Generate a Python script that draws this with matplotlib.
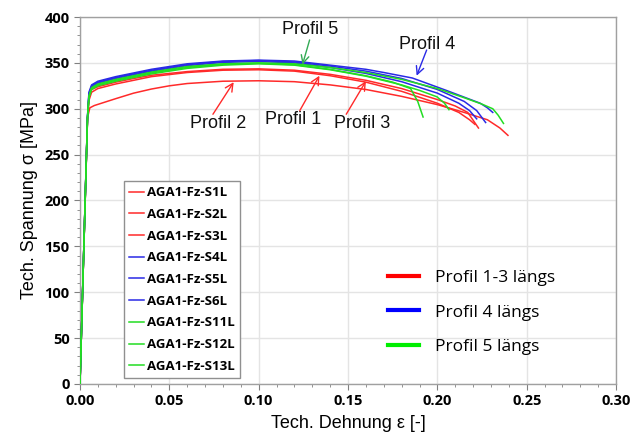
import matplotlib
matplotlib.use("Agg")
import matplotlib.pyplot as plt
from matplotlib.lines import Line2D
from matplotlib.ticker import MultipleLocator, FormatStrFormatter

# ---------------- data ----------------
s1_strain = [0, 0.0042, 0.005, 0.0065, 0.01, 0.02, 0.03, 0.04, 0.06, 0.08, 0.10, 0.12, 0.14, 0.16, 0.18, 0.20, 0.21, 0.217, 0.223]
s1_stress = [0, 290, 312, 321, 324, 329, 333, 336.5, 340.5, 343, 343.5, 342, 337.5, 331, 322, 310, 303, 296, 279]

s2_strain = [0, 0.0042, 0.0055, 0.008, 0.012, 0.02, 0.03, 0.04, 0.05, 0.06, 0.08, 0.10, 0.12, 0.14, 0.16, 0.18, 0.20, 0.215, 0.228, 0.235, 0.2395]
s2_stress = [0, 290, 301, 303.5, 306, 311, 317, 321.5, 325, 327.5, 330, 330.5, 329.5, 326, 321, 313.5, 304.5, 296, 288, 279, 271]

s3_strain = [0, 0.0042, 0.005, 0.0065, 0.01, 0.02, 0.04, 0.06, 0.08, 0.10, 0.12, 0.14, 0.16, 0.18, 0.20, 0.212, 0.218, 0.221]
s3_stress = [0, 288, 309, 318, 322, 327, 335, 339.5, 342, 342.5, 341, 336, 329, 319, 306, 296, 288, 283]

s4_strain = [0, 0.0042, 0.005, 0.0065, 0.01, 0.02, 0.04, 0.06, 0.08, 0.10, 0.12, 0.14, 0.16, 0.17, 0.186, 0.205, 0.224, 0.228, 0.231]
s4_stress = [0, 292, 318, 326, 330, 335, 343, 349, 352, 353, 352, 347.5, 343, 339.5, 333.5, 320, 306, 301, 296]

s5_strain = [0, 0.0042, 0.005, 0.0065, 0.01, 0.02, 0.04, 0.06, 0.08, 0.10, 0.12, 0.14, 0.16, 0.18, 0.20, 0.215, 0.222, 0.227]
s5_stress = [0, 291, 316, 325, 329, 334, 342, 348, 351.5, 352.5, 351, 346.5, 341, 333, 321, 308, 298, 285]

s6_strain = [0, 0.0042, 0.005, 0.0065, 0.01, 0.02, 0.04, 0.06, 0.08, 0.10, 0.12, 0.14, 0.16, 0.18, 0.20, 0.212, 0.218, 0.222]
s6_stress = [0, 290, 315, 324, 328, 333, 341, 347, 350.5, 351.5, 350, 345, 338.5, 329.5, 317, 306, 298, 289]

s11_strain = [0, 0.0042, 0.005, 0.0065, 0.01, 0.02, 0.04, 0.06, 0.08, 0.10, 0.12, 0.14, 0.16, 0.18, 0.20, 0.215, 0.225, 0.231, 0.234, 0.237]
s11_stress = [0, 291, 314, 323, 327, 332, 340, 346, 349, 350, 349, 345, 339.5, 332, 322, 312, 305, 300, 293, 284]

s12_strain = [0, 0.0042, 0.005, 0.0065, 0.01, 0.02, 0.04, 0.06, 0.08, 0.10, 0.12, 0.14, 0.16, 0.175, 0.185, 0.189, 0.192]
s12_stress = [0, 290, 313, 322, 326, 331, 339, 345, 348.5, 349.5, 348, 343, 336, 329, 322, 308, 291]

s13_strain = [0, 0.0042, 0.005, 0.0065, 0.01, 0.02, 0.04, 0.06, 0.08, 0.10, 0.12, 0.14, 0.16, 0.18, 0.19, 0.1998, 0.204, 0.2065]
s13_stress = [0, 289, 312, 321, 325, 330, 338, 344, 347.5, 349, 347.5, 342.5, 335.5, 326, 320, 313, 306, 299]

series_labels = ["AGA1-Fz-S1L", "AGA1-Fz-S2L", "AGA1-Fz-S3L", "AGA1-Fz-S4L", "AGA1-Fz-S5L",
                 "AGA1-Fz-S6L", "AGA1-Fz-S11L", "AGA1-Fz-S12L", "AGA1-Fz-S13L"]
group_labels = ["Profil 1-3 längs", "Profil 4 längs", "Profil 5 längs"]

RED = "#ff2a2a"
BLUE = "#2a2ae6"
GREEN = "#22dd22"

series = [
    (s1_strain, s1_stress, RED), (s2_strain, s2_stress, RED), (s3_strain, s3_stress, RED),
    (s4_strain, s4_stress, BLUE), (s5_strain, s5_stress, BLUE), (s6_strain, s6_stress, BLUE),
    (s11_strain, s11_stress, GREEN), (s12_strain, s12_stress, GREEN), (s13_strain, s13_stress, GREEN),
]

# ---------------- figure ----------------
fig = plt.figure(figsize=(6.42, 4.36), dpi=100)
ax = fig.add_axes([0.1246, 0.1193, 0.835, 0.8417])

handles = []
for (x, y, c), lab in zip(series, series_labels):
    h, = ax.plot(x, y, color=c, lw=1.1, label=lab, zorder=3)
    handles.append(h)

ax.set_xlim(0, 0.30)
ax.set_ylim(0, 400)
ax.xaxis.set_major_locator(MultipleLocator(0.05))
ax.xaxis.set_minor_locator(MultipleLocator(0.01))
ax.yaxis.set_major_locator(MultipleLocator(50))
ax.yaxis.set_minor_locator(MultipleLocator(10))
ax.xaxis.set_major_formatter(FormatStrFormatter("%.2f"))
ax.grid(True, which="major", color="#e4e4e4", lw=1.0, zorder=0)
ax.set_axisbelow(True)
for s in ax.spines.values():
    s.set_color("#a0a0a0")
    s.set_linewidth(1.0)
ax.tick_params(which="both", direction="out", color="#808080")
ax.tick_params(which="major", length=4)
ax.tick_params(which="minor", length=2.5)
for lab in ax.get_xticklabels() + ax.get_yticklabels():
    lab.set_fontfamily("Open Sans")
    lab.set_fontweight("bold")
    lab.set_fontsize(10.5)

ax.set_xlabel("Tech. Dehnung ε [-]", fontsize=13, family="Liberation Sans", labelpad=5)
ax.set_ylabel("Tech. Spannung σ [MPa]", fontsize=13, family="Liberation Sans", labelpad=5)

# annotations
ann_font = dict(fontsize=13, family="Liberation Sans", color="#111111")
arrow_kw = lambda c: dict(arrowstyle="->", color=c, lw=1.0, mutation_scale=14, shrinkA=0, shrinkB=0)
ax.text(0.1287, 386, "Profil 5", ha="center", va="center", **ann_font)
ax.annotate("", xy=(0.1245, 348), xytext=(0.1285, 375), arrowprops=arrow_kw("#33aa55"))
ax.text(0.194, 370.5, "Profil 4", ha="center", va="center", **ann_font)
ax.annotate("", xy=(0.1884, 336), xytext=(0.194, 364), arrowprops=arrow_kw(BLUE))
ax.text(0.0772, 284, "Profil 2", ha="center", va="center", **ann_font)
ax.annotate("", xy=(0.086, 329), xytext=(0.0744, 294), arrowprops=arrow_kw(RED))
ax.text(0.119, 288.5, "Profil 1", ha="center", va="center", **ann_font)
ax.annotate("", xy=(0.134, 336), xytext=(0.123, 298), arrowprops=arrow_kw(RED))
ax.text(0.158, 284, "Profil 3", ha="center", va="center", **ann_font)
ax.annotate("", xy=(0.160, 330), xytext=(0.149, 294), arrowprops=arrow_kw(RED))

# legend 1
leg1 = ax.legend(handles=handles, loc="lower left", bbox_to_anchor=(0.07, -0.002),
                 prop={"family": "Open Sans", "weight": "bold", "size": 9.5},
                 frameon=True, fancybox=False, edgecolor="#909090", framealpha=1,
                 handlelength=1.1, handletextpad=0.2, labelspacing=0.66, borderpad=0.4)
leg1.get_frame().set_linewidth(1.0)
ax.add_artist(leg1)

# legend 2
proxies = [Line2D([], [], color="#ff0000", lw=3), Line2D([], [], color="#0000ff", lw=3),
           Line2D([], [], color="#00ee00", lw=3)]
ax.legend(proxies, group_labels, loc="center left", bbox_to_anchor=(0.545, 0.195),
          prop={"family": "Open Sans", "size": 12.5}, frameon=False,
          handlelength=1.8, handletextpad=0.9, labelspacing=1.05)

fig.savefig("out.png", dpi=100)
